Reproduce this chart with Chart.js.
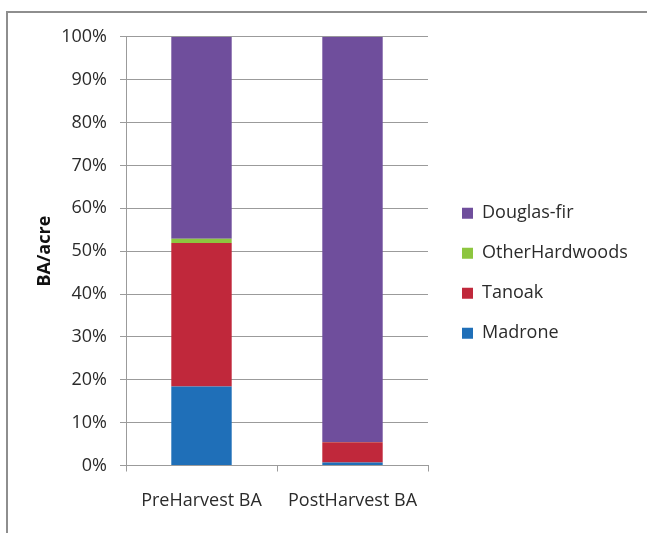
<!DOCTYPE html>
<html>
<head>
<meta charset="utf-8">
<title>BA/acre by species</title>
<script src="https://cdn.jsdelivr.net/npm/chart.js@4/dist/chart.umd.min.js"></script>
<style>
  html, body { margin: 0; padding: 0; background: #fff; }
  body { width: 647px; height: 533px; position: relative; overflow: hidden; }
  #frame {
    position: absolute; left: 6px; top: 11px; width: 660px; height: 540px;
    border-top: 2px solid #8e8e8e; border-left: 2px solid #8e8e8e;
  }
  #chart { position: absolute; left: 8px; top: 13px; }
</style>
</head>
<body>
<div id="frame"></div>
<canvas id="chart" width="639" height="520"></canvas>
<script>
const categories = ['PreHarvest BA', 'PostHarvest BA'];
const madrone = [18.4, 0.7];
const tanoak = [33.5, 4.7];
const otherHardwoods = [1.0, 0.1];
const douglasFir = [47.1, 94.5];
const yTickLabels = ['0%', '10%', '20%', '30%', '40%', '50%', '60%', '70%', '80%', '90%', '100%'];

const fontFamily = '"Open Sans", "DejaVu Sans", sans-serif';
const gridColor = '#9b9b9b';
const textColor = '#2b2b2b';

// the legend column gets a fixed width instead of the layout's default share
const legendWidth = {
    id: 'legendWidth',
    beforeInit: function (chart) {
        const fit = chart.legend.fit;
        chart.legend.fit = function () {
            fit.call(this);
            this.width = 207;
        };
    }
};

const ctx = document.getElementById('chart').getContext('2d');
const grafico = new Chart(ctx, {
    type: 'bar',
    data: {
        labels: categories,
        datasets: [
            { label: 'Madrone', data: madrone, backgroundColor: '#1f6fb8' },
            { label: 'Tanoak', data: tanoak, backgroundColor: '#c0283b' },
            { label: 'OtherHardwoods', data: otherHardwoods, backgroundColor: '#8dc63f' },
            { label: 'Douglas-fir', data: douglasFir, backgroundColor: '#6f4e9c' }
        ]
    },
    plugins: [legendWidth],
    options: {
        responsive: false,
        animation: false,
        devicePixelRatio: 1,
        datasets: {
            bar: { categoryPercentage: 1, barPercentage: 0.4, borderWidth: 0 }
        },
        layout: { padding: { left: 22, top: 23, right: 0, bottom: 22.5 } },
        scales: {
            x: {
                stacked: true,
                grid: { color: gridColor, drawOnChartArea: false, drawTicks: true, tickLength: 6, offset: true },
                border: { color: gridColor },
                ticks: { color: textColor, padding: 19, font: { family: fontFamily, size: 18 } },
                afterFit: function (scale) { scale.height = 45; }
            },
            y: {
                stacked: true,
                min: 0,
                max: 100,
                grid: { color: gridColor, tickLength: 6 },
                border: { color: gridColor },
                ticks: {
                    stepSize: 10,
                    padding: 13,
                    color: textColor,
                    font: { family: fontFamily, size: 18 },
                    callback: function (value, index) { return yTickLabels[index]; }
                },
                title: {
                    display: true,
                    text: 'BA/acre',
                    color: '#111',
                    font: { family: fontFamily, size: 18, weight: 'bold' }
                },
                afterFit: function (scale) { scale.width = 96; }
            },
            // empty right-hand axis, only keeps a gap between the plot and the legend
            gap: {
                axis: 'y',
                position: 'right',
                grid: { display: false },
                border: { display: false },
                ticks: { display: false },
                afterFit: function (scale) { scale.width = 12; }
            }
        },
        plugins: {
            legend: {
                position: 'right',
                reverse: true,
                labels: {
                    boxWidth: 11,
                    boxHeight: 11,
                    padding: 22,
                    color: textColor,
                    font: { family: fontFamily, size: 18 }
                }
            },
            tooltip: { enabled: false }
        }
    }
});
</script>
</body>
</html>
